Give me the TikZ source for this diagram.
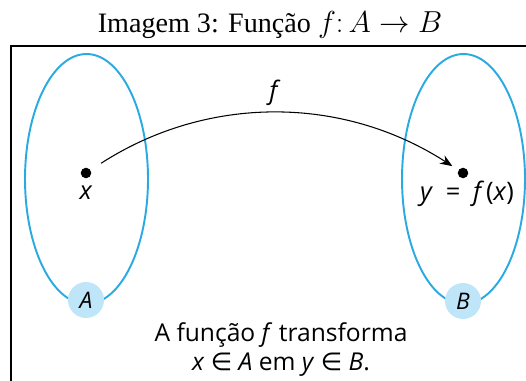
\documentclass[tikz,border=0pt]{standalone}
\usepackage{fontspec}
\setmainfont{Liberation Serif}
\setsansfont{Open Sans}
\newfontfamily\symfont{DejaVu Sans}
\usetikzlibrary{shapes.geometric, positioning, arrows.meta}

\definecolor{cSet}{RGB}{41,171,226}    % ellipse outline
\definecolor{cTag}{RGB}{190,230,248}   % set name disc

\newcommand{\elem}{{\symfont\char"2208}}

\begin{document}
\begin{tikzpicture}[
  x=0.02cm, y=-0.02cm,
  font=\sffamily\fontsize{14.5}{16}\selectfont,
  set/.style={
    draw=cSet, line width=1.1pt, ellipse,
    minimum width=2.46cm, minimum height=5.0cm, inner sep=0pt
  },
  tag/.style={
    circle, fill=cTag, minimum size=0.72cm, inner sep=0pt,
    font=\sffamily\fontsize{13}{14}\selectfont
  },
  dot/.style={circle, fill=black, minimum size=6pt, inner sep=0pt}
]

  \useasboundingbox (0,0) rectangle (526,381);

  % Title
  \node[font=\rmfamily\fontsize{16}{18}\selectfont] (title) at (270,25)
    {Imagem 3: Função $f\colon A \to B$};

  % Frame (cut on the right and at the bottom)
  \draw[line width=1.1pt] (530,46) -- (11,46) -- (11,385);

  % --- SETS ---
  \node[set] (setA) at (86.5,179) {};
  \node[set] (setB) at (463.5,179) {};

  \node[tag] (tagA) at (86,300) {\textit{A}};
  \node[tag] (tagB) at (463,301) {\textit{B}};

  % --- ELEMENTS ---
  \node[dot] (dotx) at (86,173) {};
  \node[dot] (doty) at (463,173) {};

  \node (labx) at (86,193) {\textit{x}};
  \node (laby) at (467,194) {\textit{y}\enspace=\enspace\textit{f}\kern1pt(\textit{x})};

  % --- ARROW ---
  \draw[-{Stealth[length=7pt, width=5.5pt]}, line width=0.6pt,
        shorten <=7pt, shorten >=4pt]
    (dotx) .. controls +(121,-78) and +(-121,-78) .. (doty);
  \node (lblf) at (275,93) {\textit{f}};

  % Caption
  \node[align=center, font=\sffamily\fontsize{14}{16.5}\selectfont] (caption) at (281,350)
    {A função \textit{f} transforma\\ \textit{x} \elem{} \textit{A} em \textit{y} \elem{} \textit{B}.};

\end{tikzpicture}
\end{document}
